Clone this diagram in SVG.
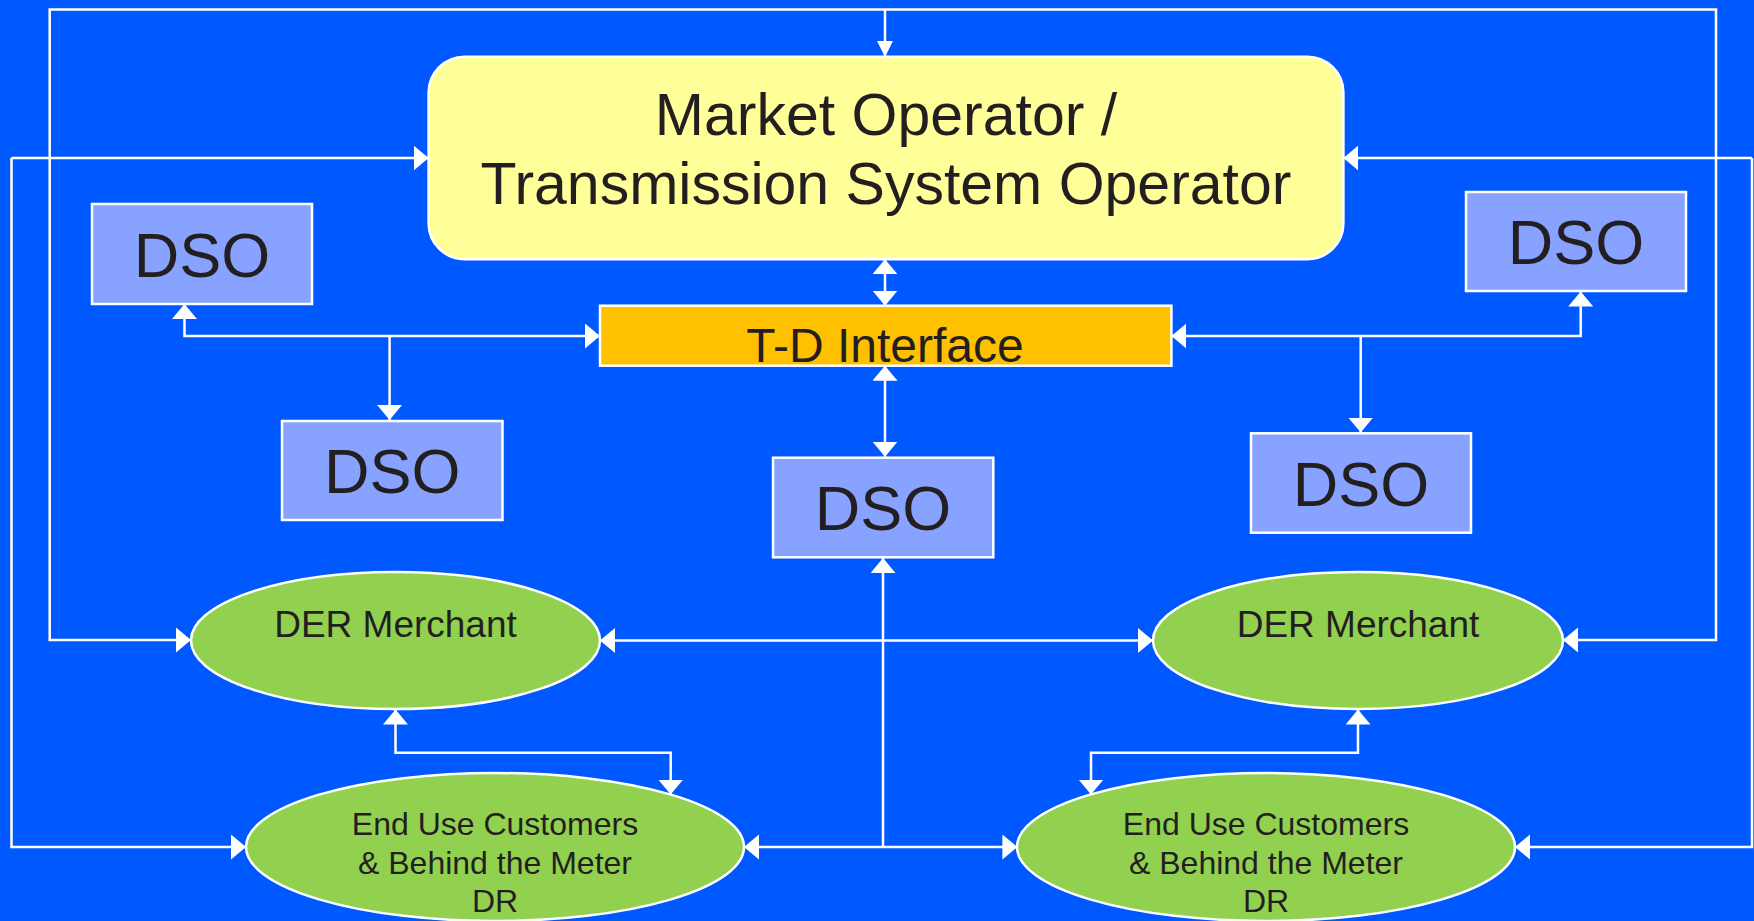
<svg xmlns="http://www.w3.org/2000/svg" width="1754" height="921" viewBox="0 0 1754 921">
<style>
.bg{fill:#0058FF}
.node{stroke:#FFFFFF;stroke-width:2.5}
.mo{fill:#FFFF99}
.td{fill:#FFC000}
.dso{fill:#87A3FF}
.ell{fill:#92D050}
text{font-family:"Liberation Sans",Arial,sans-serif;fill:#231F20;text-anchor:middle}
.conn path{fill:none;stroke:#FFFFFF;stroke-width:2.5}
</style>
<defs>
<marker id="ah" markerUnits="userSpaceOnUse" markerWidth="16" markerHeight="26" refX="15" refY="12.5" orient="auto-start-reverse" viewBox="0 0 16 26">
<path d="M0,0 L15,12.5 L0,25 z" fill="#FFFFFF"/>
</marker>
<marker id="ahn" markerUnits="userSpaceOnUse" markerWidth="17" markerHeight="17" refX="16" refY="8" orient="auto" viewBox="0 0 17 17">
<path d="M0,0 L16,8 L0,16 z" fill="#FFFFFF"/>
</marker>
</defs>
<rect class="bg" x="0" y="0" width="1754" height="921"/>
<g id="connectors" class="conn">
<path d="M885,9.5 H49.7 V640 H191" marker-end="url(#ah)"/>
<path d="M885,9.5 H1716 V640 H1563" marker-end="url(#ah)"/>
<path d="M885,9.5 V57" marker-end="url(#ahn)"/>
<path d="M11.5,158 H428.6" marker-end="url(#ah)"/>
<path d="M11.5,158 V847 H246" marker-end="url(#ah)"/>
<path d="M1752,158 H1343.4" marker-end="url(#ah)"/>
<path d="M1752,158 V847 H1515" marker-end="url(#ah)"/>
<path d="M885,259.2 V305.7" marker-start="url(#ah)" marker-end="url(#ah)"/>
<path d="M600,336 H184.5 V304" marker-start="url(#ah)" marker-end="url(#ah)"/>
<path d="M389.6,336 V420" marker-end="url(#ah)"/>
<path d="M1171.4,336 H1580.7 V291.5" marker-start="url(#ah)" marker-end="url(#ah)"/>
<path d="M1360.7,336 V432.5" marker-end="url(#ah)"/>
<path d="M885,365.7 V456.7" marker-start="url(#ah)" marker-end="url(#ah)"/>
<path d="M883,558 V847"  marker-start="url(#ah)"/>
<path d="M883,847 H744" marker-end="url(#ah)"/>
<path d="M883,847 H1017.4" marker-end="url(#ah)"/>
<path d="M600,640.5 H1153" marker-start="url(#ah)" marker-end="url(#ah)"/>
<path d="M395.5,709.5 V752.7 H670.7 V794.5" marker-start="url(#ah)" marker-end="url(#ah)"/>
<path d="M1358,709.5 V752.7 H1091 V794.5" marker-start="url(#ah)" marker-end="url(#ah)"/>
</g>
<g id="market-operator">
<rect class="node mo" x="428.6" y="56.7" width="914.8" height="202.5" rx="36" ry="36"/>
<text x="886" y="135" font-size="59">Market Operator /</text>
<text x="886" y="204" font-size="59">Transmission System Operator</text>
</g>
<g id="td-interface">
<rect class="node td" x="600" y="305.7" width="571.4" height="60"/>
<text x="885" y="361.5" font-size="48">T-D Interface</text>
</g>
<g id="dso-top-left">
<rect class="node dso" x="92" y="204" width="220" height="100"/>
<text x="202" y="276.5" font-size="63">DSO</text>
</g>
<g id="dso-mid-left">
<rect class="node dso" x="282" y="421" width="220.5" height="99"/>
<text x="392.2" y="493" font-size="63">DSO</text>
</g>
<g id="dso-center">
<rect class="node dso" x="773" y="457.7" width="220.3" height="99.6"/>
<text x="883.1" y="530" font-size="63">DSO</text>
</g>
<g id="dso-mid-right">
<rect class="node dso" x="1251" y="433.3" width="220" height="99.4"/>
<text x="1361" y="505.5" font-size="63">DSO</text>
</g>
<g id="dso-top-right">
<rect class="node dso" x="1466" y="192" width="220" height="99"/>
<text x="1576" y="264.3" font-size="63">DSO</text>
</g>
<g id="der-merchant-left">
<ellipse class="node ell" cx="395.5" cy="640.5" rx="204.5" ry="68.5"/>
<text x="395.5" y="637" font-size="37">DER Merchant</text>
</g>
<g id="der-merchant-right">
<ellipse class="node ell" cx="1358" cy="640.5" rx="205" ry="68.5"/>
<text x="1358" y="637" font-size="37">DER Merchant</text>
</g>
<g id="end-use-left">
<ellipse class="node ell" cx="495" cy="847" rx="249" ry="74"/>
<text x="495" y="835" font-size="32">End Use Customers</text>
<text x="495" y="874" font-size="32">&amp; Behind the Meter</text>
<text x="495" y="912" font-size="32">DR</text>
</g>
<g id="end-use-right">
<ellipse class="node ell" cx="1266" cy="847" rx="249" ry="74"/>
<text x="1266" y="835" font-size="32">End Use Customers</text>
<text x="1266" y="874" font-size="32">&amp; Behind the Meter</text>
<text x="1266" y="912" font-size="32">DR</text>
</g>
</svg>
